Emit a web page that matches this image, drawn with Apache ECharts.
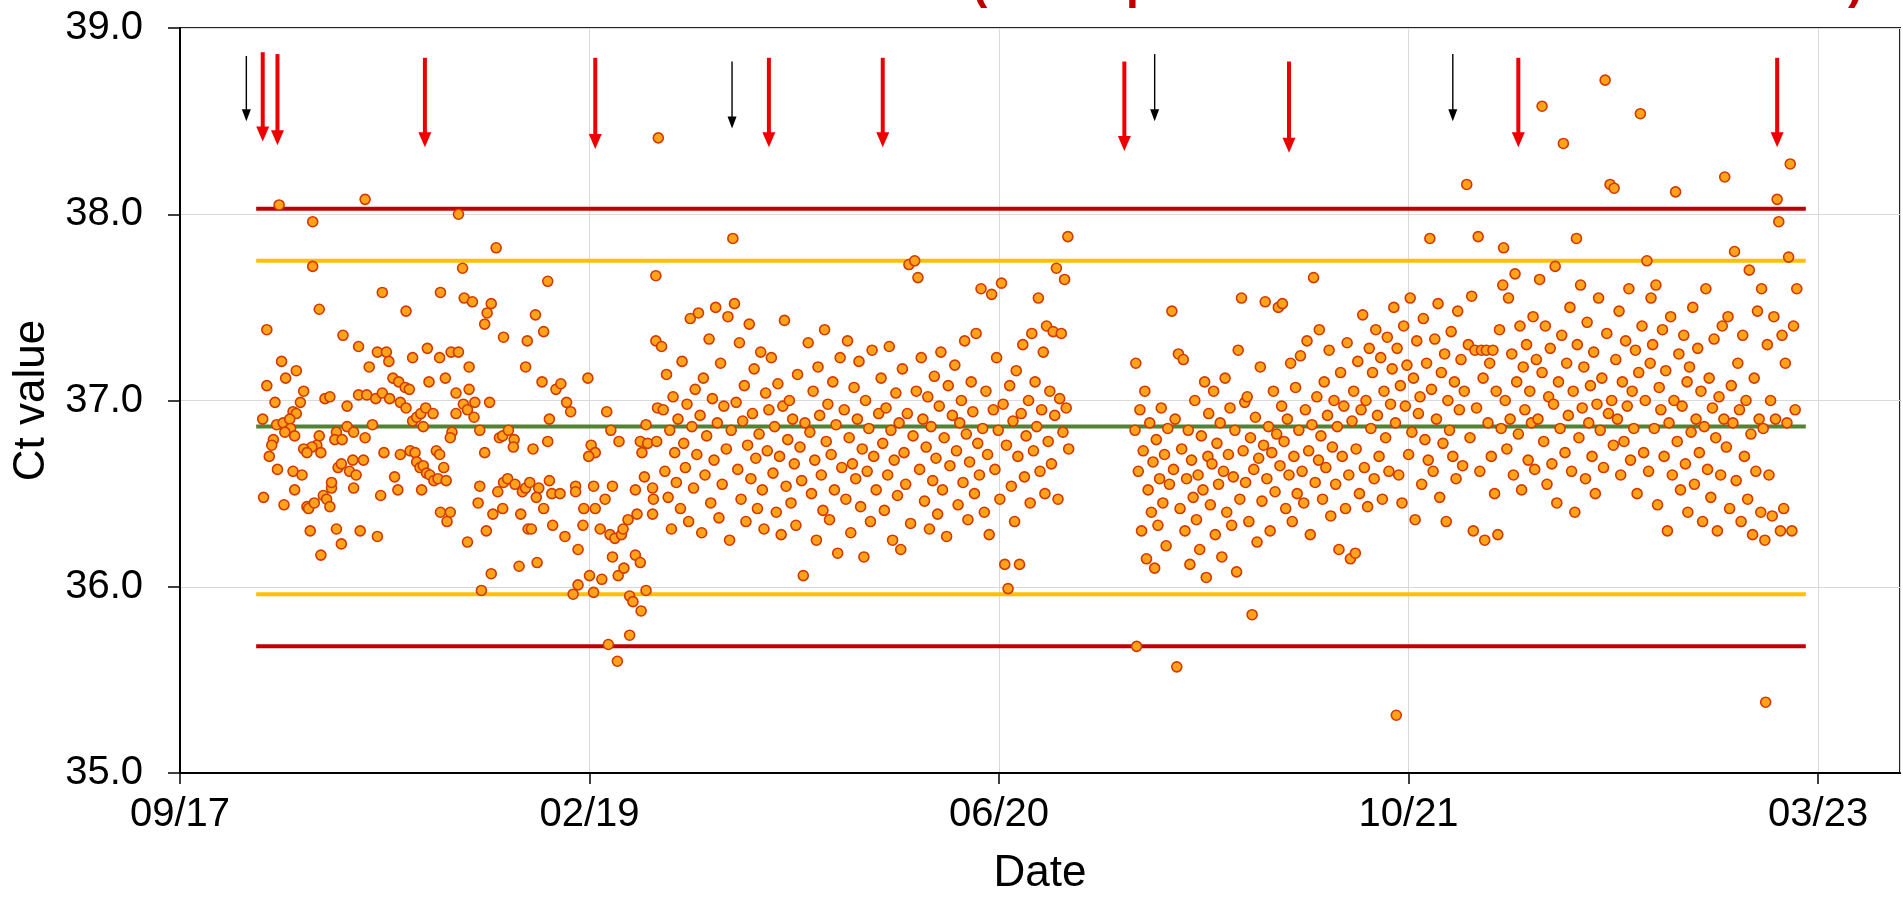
<!DOCTYPE html>
<html><head><meta charset="utf-8">
<script src="https://cdn.jsdelivr.net/npm/echarts@6/dist/echarts.min.js"></script>
<style>html,body{margin:0;padding:0;background:#fff}#chart{width:1903px;height:901px}</style>
</head><body><div id="chart"></div>
<script>
// Dates are spreadsheet serial days (1899-12-30 = 0)
const xTicks = [43000, 43500, 44000, 44500, 45000];
const xTickLabels = ['09/17', '02/19', '06/20', '10/21', '03/23'];
const yTicks = [35, 36, 37, 38, 39];

const limitLevels = [38.03, 37.75, 36.86, 35.96, 35.68];
const limitColors = ['#C00000', '#FFC000', '#548235', '#FFC000', '#C00000'];
const limitStart = 43093, limitEnd = 44985;

// [date, top value, tip value]
const redArrows = [[43101,38.87,38.39],[43119,38.86,38.37],[43299,38.84,38.36],[43507,38.84,38.35],[43719,38.84,38.36],[43858,38.84,38.36],[44153,38.82,38.34],[44354,38.82,38.33],[44634,38.84,38.36],[44950,38.84,38.36]];
const blackArrows = [[43081,38.85,38.50],[43674,38.82,38.46],[44190,38.86,38.50],[44554,38.86,38.50]];

const ct2018a = [[43121,38.05],[43226,38.08],[43162,37.96],[43340,38.00],[43386,37.82],[43162,37.72],[43345,37.71],[43581,37.67],[43247,37.58],[43318,37.58],[43347,37.55],[43357,37.53],[43380,37.52],[43375,37.47],[43372,37.41],[43170,37.49],[43276,37.48],[43106,37.38],[43434,37.46],[43444,37.37],[43449,37.64],[43395,37.34],[43424,37.32],[43581,37.32],[43199,37.35],[43218,37.29],[43241,37.26],[43252,37.26],[43255,37.21],[43284,37.23],[43302,37.28],[43317,37.23],[43331,37.26],[43340,37.26],[43353,37.18],[43422,37.18],[43124,37.21],[43231,37.18],[43142,37.16],[43129,37.12],[43106,37.08],[43151,37.05],[43260,37.12],[43267,37.10],[43275,37.07],[43280,37.06],[43304,37.10],[43324,37.12],[43353,37.06],[43442,37.10],[43459,37.06],[43465,37.09],[43498,37.12],[43177,37.01],[43183,37.02],[43116,36.99],[43147,36.99],[43138,36.94],[43142,36.93],[43204,36.97],[43218,37.03],[43228,37.03],[43239,37.01],[43247,37.04],[43256,37.01],[43269,36.99],[43276,36.96],[43284,36.89],[43289,36.91],[43294,36.93],[43300,36.96],[43309,36.93],[43297,36.86],[43337,37.04],[43346,36.98],[43351,36.95],[43360,36.99],[43359,36.91],[43337,36.93],[43378,36.99],[43472,36.99],[43477,36.94],[43451,36.90],[43521,36.94],[43526,36.84],[43569,36.87],[43583,36.96],[43101,36.90],[43118,36.87],[43126,36.88],[43134,36.90],[43135,36.85],[43128,36.83],[43140,36.81],[43170,36.81],[43167,36.76],[43172,36.72],[43161,36.75],[43151,36.74],[43155,36.72],[43114,36.79],[43112,36.76],[43109,36.70],[43191,36.83],[43189,36.79],[43198,36.79],[43204,36.86],[43212,36.83],[43226,36.80],[43235,36.87],[43249,36.72],[43281,36.73],[43287,36.72],[43269,36.71],[43313,36.73],[43317,36.71],[43332,36.83],[43330,36.80],[43366,36.84],[43372,36.72],[43390,36.80],[43394,36.81],[43401,36.84],[43408,36.79],[43407,36.75],[43431,36.74],[43449,36.78],[43502,36.76],[43507,36.72],[43499,36.70],[43536,36.78],[43562,36.78],[43571,36.77],[43582,36.78],[43564,36.72],[43584,38.41]];
const ct2018b = [[43119,36.63],[43102,36.48],[43127,36.44],[43138,36.62],[43149,36.60],[43140,36.52],[43155,36.43],[43157,36.42],[43164,36.45],[43175,36.49],[43179,36.47],[43183,36.43],[43185,36.53],[43185,36.56],[43159,36.30],[43172,36.17],[43191,36.31],[43197,36.23],[43193,36.64],[43197,36.66],[43207,36.62],[43211,36.68],[43215,36.60],[43224,36.68],[43212,36.53],[43220,36.30],[43241,36.27],[43245,36.49],[43262,36.59],[43266,36.52],[43289,36.67],[43293,36.64],[43297,36.65],[43301,36.61],[43305,36.60],[43310,36.57],[43315,36.58],[43325,36.57],[43322,36.64],[43295,36.52],[43318,36.40],[43330,36.40],[43326,36.35],[43351,36.24],[43366,36.54],[43364,36.45],[43374,36.30],[43382,36.39],[43394,36.42],[43388,36.51],[43395,36.56],[43400,36.58],[43409,36.55],[43418,36.51],[43422,36.53],[43427,36.56],[43438,36.53],[43435,36.48],[43416,36.39],[43444,36.42],[43451,36.57],[43454,36.50],[43464,36.50],[43455,36.33],[43425,36.31],[43429,36.31],[43414,36.11],[43436,36.13],[43380,36.07],[43368,35.98],[43470,36.27],[43483,36.54],[43483,36.51],[43493,36.42],[43492,36.33],[43486,36.20],[43505,36.54],[43507,36.42],[43513,36.31],[43519,36.47],[43528,36.54],[43525,36.28],[43531,36.26],[43539,36.28],[43541,36.31],[43547,36.36],[43558,36.39],[43556,36.52],[43567,36.59],[43577,36.53],[43578,36.47],[43577,36.39],[43528,36.16],[43535,36.06],[43542,36.10],[43556,36.17],[43562,36.13],[43500,36.06],[43486,36.01],[43515,36.04],[43480,35.96],[43505,35.97],[43549,35.95],[43553,35.92],[43563,35.87],[43569,35.98],[43549,35.74],[43523,35.69],[43534,35.60]];
const ct2019 = [[43588,37.29],[43590,36.95],[43592,36.62],[43594,37.14],[43596,36.48],[43598,36.84],[43600,36.31],[43602,37.02],[43604,36.72],[43606,36.56],[43608,36.9],[43611,36.42],[43613,37.21],[43615,36.77],[43617,36.64],[43619,36.98],[43621,36.35],[43623,37.44],[43625,36.86],[43627,36.53],[43629,37.06],
[43631,36.71],[43633,37.47],[43635,36.92],[43637,36.29],[43639,37.12],[43641,36.6],[43643,36.81],[43646,37.33],[43648,36.45],[43650,37.01],[43652,36.68],[43654,37.5],[43656,36.88],[43658,36.37],[43660,37.2],[43662,36.55],[43664,36.97],[43667,36.74],[43669,37.45],[43671,36.25],[43673,36.84],[43675,37.87],
[43677,37.52],[43679,36.99],[43681,36.63],[43683,37.31],[43685,36.47],[43687,36.89],[43689,37.08],[43691,36.35],[43693,36.76],[43695,37.41],[43697,36.58],[43699,36.93],[43701,37.17],[43703,36.69],[43705,36.42],[43707,36.82],[43709,37.26],[43711,36.52],[43713,36.31],[43715,37.04],[43717,36.73],[43719,36.95],
[43722,37.23],[43724,36.61],[43726,36.86],[43728,36.4],[43730,37.09],[43732,36.7],[43734,36.28],[43736,36.97],[43738,37.43],[43740,36.54],[43742,36.79],[43744,37.0],[43746,36.45],[43748,36.9],[43750,36.66],[43752,36.33],[43754,37.14],[43757,36.75],[43759,36.57],[43761,36.06],[43763,36.88],
[43767,37.31],[43769,36.83],[43771,36.5],[43773,37.05],[43775,36.68],[43777,36.25],[43779,37.18],[43781,36.92],[43783,36.6],[43785,36.41],[43787,37.38],[43789,36.78],[43791,36.98],[43793,36.36],[43795,36.71],[43797,37.1],[43799,36.52],[43801,36.87],[43803,36.18],[43806,37.23],[43808,36.64]];
const ct2020 = [[43811,36.95],[43813,36.47],[43815,37.32],[43817,36.8],[43819,36.29],[43821,36.66],[43823,37.07],[43825,36.58],[43827,36.9],[43829,37.21],[43831,36.43],[43833,36.74],[43835,36.16],[43837,37.0],[43839,36.62],[43841,36.85],[43843,36.35],[43845,37.27],[43847,36.7],[43850,36.52],[43853,36.93],
[43856,37.12],[43858,36.77],[43860,36.41],[43862,36.96],[43864,36.6],[43866,37.29],[43868,36.84],[43870,36.25],[43872,36.68],[43874,37.04],[43876,36.49],[43878,36.88],[43880,36.2],[43882,37.17],[43884,36.72],[43886,36.55],[43888,36.93],[43890,37.73],[43892,36.34],[43895,36.81],[43897,37.75],[43899,37.05],
[43901,37.66],[43903,36.63],[43905,37.23],[43907,36.9],[43909,36.46],[43911,36.75],[43913,37.02],[43915,36.31],[43917,36.86],[43919,36.57],[43921,37.13],[43923,36.69],[43925,36.39],[43927,36.97],[43929,37.26],[43931,36.52],[43933,36.8],[43936,36.27],[43938,37.08],[43940,36.65],[43943,36.92],
[43946,37.19],[43948,36.73],[43950,36.44],[43952,36.88],[43954,37.0],[43956,36.56],[43958,37.32],[43960,36.82],[43962,36.36],[43964,36.67],[43966,37.1],[43968,36.94],[43970,36.5],[43972,37.36],[43974,36.77],[43976,36.6],[43978,37.6],[43980,36.85],[43982,36.4],[43984,37.05],[43986,36.71],[43988,36.28],
[43991,37.57],[43993,36.95],[43995,36.63],[43997,37.23],[43999,36.84],[44001,36.47],[44003,37.63],[44005,36.98],[44007,36.12],[44009,36.76],[44011,35.99],[44013,37.08],[44015,36.54],[44017,36.89],[44019,36.35],[44021,37.16],[44023,36.7],[44025,36.12],[44027,36.93],[44029,37.3],[44031,36.59],[44033,36.81],
[44036,37.0],[44038,36.45],[44040,37.36],[44042,36.73],[44044,37.1],[44046,36.86],[44048,37.55],[44050,36.62],[44052,36.95],[44054,37.26],[44056,36.5],[44058,37.4],[44060,36.78],[44062,37.05],[44064,36.66],[44066,37.37],[44068,36.92],[44070,37.71],[44072,36.47],[44074,37.01],[44076,37.36],[44078,36.83],[44080,37.65],[44082,36.96],[44084,37.88],[44085,36.74]];
const ct2021 = [[44166,36.84],[44167,37.2],[44168,35.68],[44170,36.62],[44172,36.95],[44174,36.3],[44176,36.73],[44178,37.05],[44180,36.15],[44182,36.52],[44184,36.88],[44186,36.4],[44188,36.67],[44190,36.1],[44192,36.79],[44194,36.33],[44196,36.58],[44198,36.96],[44200,36.45],[44202,36.71],[44204,36.22],[44206,36.85],[44208,36.55],
[44211,37.48],[44213,36.63],[44215,36.9],[44217,35.57],[44219,37.25],[44221,36.42],[44223,36.74],[44225,37.22],[44227,36.3],[44229,36.58],[44231,36.84],[44233,36.12],[44235,36.68],[44237,36.48],[44239,37.0],[44241,36.36],[44243,36.6],[44245,36.2],[44247,36.81],[44249,36.52],[44251,37.1],[44253,36.05],[44255,36.7],
[44256,36.93],[44258,36.44],[44260,36.66],[44262,37.05],[44264,36.28],[44266,36.77],[44268,36.55],[44270,36.88],[44272,36.16],[44274,36.62],[44276,37.12],[44278,36.4],[44280,36.71],[44282,36.96],[44284,36.33],[44286,36.59],[44288,36.84],[44290,36.08],[44292,37.27],[44294,36.47],[44296,37.55],[44298,36.73],[44300,36.99],
[44301,36.56],[44303,37.02],[44305,36.35],[44307,36.8],[44309,35.85],[44311,36.63],[44313,36.91],[44315,36.24],[44317,36.69],[44319,37.18],[44321,36.46],[44323,36.76],[44325,37.53],[44327,36.58],[44329,36.86],[44331,36.3],[44333,36.72],[44335,37.05],[44337,36.51],[44339,36.82],[44341,37.5],[44343,36.65],[44345,36.97],
[44346,37.52],[44348,36.78],[44350,36.42],[44352,36.9],[44354,36.6],[44356,37.2],[44358,36.35],[44360,36.7],[44362,37.07],[44364,36.5],[44366,36.84],[44368,37.24],[44370,36.62],[44372,36.45],[44374,36.95],[44376,37.32],[44378,36.73],[44380,36.28],[44382,36.87],[44384,37.66],[44386,36.56],[44388,37.02],[44390,36.68],
[44391,37.38],[44393,36.81],[44395,36.47],[44397,37.1],[44399,36.64],[44401,36.92],[44403,37.27],[44405,36.38],[44407,36.75],[44409,37.0],[44411,36.55],[44413,36.86],[44415,36.2],[44417,37.15],[44419,36.7],[44421,36.97],[44423,36.42],[44425,37.31],[44427,36.6],[44429,36.15],[44431,36.89],[44433,37.05],[44435,36.18],
[44436,36.74],[44438,37.21],[44440,36.5],[44442,36.95],[44444,37.46],[44446,36.64],[44448,37.0],[44450,36.43],[44452,37.28],[44454,36.85],[44456,37.15],[44458,36.58],[44460,37.38],[44462,36.92],[44464,36.7],[44466,37.23],[44468,36.47],[44470,37.05],[44472,36.8],[44474,37.34],[44476,36.62],[44478,36.98],[44480,37.17],[44485,35.31],
[44482,37.5],[44484,36.88],[44486,37.28],[44488,36.6],[44490,37.08],[44492,36.45],[44494,37.4],[44496,36.97],[44498,37.19],[44500,36.71],[44502,37.55],[44504,36.83],[44506,37.12],[44508,36.36],[44510,37.32],[44512,36.93],[44514,37.02],[44516,36.55],[44518,37.44],[44520,36.79],[44522,37.2],[44524,36.68]];
const ct2022 = [[44526,37.87],[44528,37.06],[44530,36.62],[44532,37.33],[44534,36.9],[44536,37.52],[44538,36.48],[44540,37.15],[44542,36.77],[44544,37.25],[44546,36.35],[44548,37.0],[44550,36.84],[44552,37.37],[44554,36.7],[44556,37.1],[44558,36.58],[44560,37.48],[44562,36.95],[44564,37.22],[44566,36.65],[44568,37.05],
[44571,38.16],[44573,37.3],[44575,36.8],[44577,37.56],[44579,36.3],[44581,37.27],[44583,36.96],[44585,37.88],[44587,36.62],[44589,37.27],[44591,37.12],[44593,36.25],[44595,37.27],[44597,36.88],[44599,37.2],[44601,36.7],[44603,37.27],[44605,36.5],[44607,37.05],[44609,36.28],[44611,37.38],[44613,36.85],[44615,37.62],
[44616,37.82],[44618,37.0],[44620,36.74],[44622,37.55],[44624,36.9],[44626,37.25],[44628,36.6],[44630,37.68],[44632,37.1],[44634,36.82],[44636,37.4],[44638,36.52],[44640,37.18],[44642,36.95],[44644,37.3],[44646,36.68],[44648,37.05],[44650,36.88],[44652,37.45],[44654,36.63],[44656,37.22],[44658,36.9],[44660,37.65],
[44663,38.58],[44663,37.15],[44665,36.78],[44667,37.4],[44669,36.55],[44671,37.02],[44673,37.28],[44675,36.66],[44677,36.98],[44679,37.72],[44681,36.45],[44683,37.1],[44685,36.85],[44687,37.35],[44689,38.38],[44691,36.72],[44693,37.2],[44695,36.92],[44697,37.5],[44699,36.62],[44701,37.05],[44703,36.4],[44705,37.87],
[44706,37.3],[44708,36.8],[44710,37.62],[44712,36.96],[44714,37.18],[44716,36.58],[44718,37.42],[44720,36.88],[44722,37.08],[44724,36.7],[44726,37.26],[44728,36.5],[44730,36.98],[44732,37.55],[44734,36.84],[44736,37.12],[44738,36.64],[44740,38.72],[44742,37.36],[44744,36.93],[44746,38.16],[44748,37.0],[44750,36.76],
[44751,38.14],[44753,37.22],[44755,36.9],[44757,37.48],[44759,36.6],[44761,37.1],[44763,36.78],[44765,37.32],[44767,36.97],[44769,37.6],[44771,36.68],[44773,37.05],[44775,36.85],[44777,37.27],[44779,36.5],[44781,37.15],[44783,38.54],[44785,37.4],[44787,36.72],[44789,37.0],[44791,37.75],[44793,36.62],[44795,37.2],
[44796,37.55],[44798,37.3],[44800,36.85],[44802,37.62],[44804,36.44],[44806,37.07],[44808,36.95],[44810,37.38],[44812,36.7],[44814,37.16],[44816,36.3],[44818,36.88],[44820,37.45],[44822,36.6],[44824,37.0],[44826,38.12],[44828,36.78],[44830,37.25],[44832,36.52],[44834,36.97],[44836,37.35],[44838,36.66],[44840,37.1]];
const ct2023 = [[44841,36.4],[44843,37.18],[44845,36.83],[44847,37.5],[44849,36.55],[44851,36.9],[44853,37.28],[44855,36.72],[44857,37.05],[44859,36.35],[44861,36.86],[44863,37.6],[44865,36.63],[44867,37.12],[44869,36.48],[44871,36.96],[44873,37.33],[44875,36.8],[44877,36.3],[44879,37.02],[44881,36.6],[44883,37.4],[44885,36.9],
[44886,38.2],[44888,36.75],[44890,37.45],[44892,36.42],[44894,37.08],[44896,36.88],[44898,37.8],[44900,36.57],[44902,37.2],[44904,36.95],[44906,36.35],[44908,37.35],[44910,36.7],[44912,37.0],[44914,36.47],[44916,37.7],[44918,36.82],[44920,36.28],[44922,37.12],[44924,36.62],[44926,37.48],[44928,36.9],[44930,36.4],
[44931,37.6],[44933,36.85],[44935,36.25],[44936,35.38],[44938,37.3],[44940,36.6],[44942,37.0],[44944,36.38],[44946,37.45],[44948,36.9],[44950,38.08],[44952,37.96],[44954,36.3],[44956,37.35],[44958,36.42],[44960,37.2],[44962,36.88],[44964,37.77],[44966,38.27],[44968,36.3],[44970,37.4],[44972,36.95],[44974,37.6]];

const FONT = "'Liberation Sans', Arial, sans-serif";
const chart = echarts.init(document.getElementById('chart'));

function arrowSeries(data, color, shaftW, headW, headL) {
  return {
    type: 'custom', data: data, silent: true, z: 6, clip: false,
    encode: { x: 0, y: [1, 2] },
    renderItem: function (params, api) {
      const p0 = api.coord([api.value(0), api.value(1)]);
      const p1 = api.coord([api.value(0), api.value(2)]);
      return { type: 'group', children: [
        { type: 'line', shape: { x1: p0[0], y1: p0[1], x2: p1[0], y2: p1[1] - headL + 1 },
          style: { stroke: color, lineWidth: shaftW } },
        { type: 'polygon', shape: { points: [[p1[0] - headW / 2, p1[1] - headL], [p1[0] + headW / 2, p1[1] - headL], [p1[0], p1[1]]] },
          style: { fill: color } }
      ]};
    }
  };
}

const limitSeries = limitLevels.map(function (v, i) {
  return { type: 'line', data: [[limitStart, v], [limitEnd, v]], symbol: 'none', silent: true, z: 3,
    lineStyle: { color: limitColors[i], width: 4 }, animation: false };
});

const allPoints = ct2018a.concat(ct2018b, ct2019, ct2020, ct2021, ct2022, ct2023);

chart.setOption({
  animation: false,
  backgroundColor: '#fff',
  grid: { left: 180, right: 3, top: 28, bottom: 125, show: true, borderColor: '#222', borderWidth: 2, containLabel: false },
  xAxis: {
    type: 'value', min: 43000, max: 45100, interval: 500,
    name: 'Date', nameLocation: 'middle', nameGap: 79,
    nameTextStyle: { fontSize: 44, color: '#000', fontFamily: FONT },
    axisLine: { show: true, lineStyle: { color: '#000', width: 2 } },
    axisTick: { show: true, length: 11, lineStyle: { color: '#000', width: 1.5 } },
    axisLabel: { fontSize: 40, color: '#000', fontFamily: FONT, margin: 22, showMaxLabel: false,
      formatter: function (v) { const i = xTicks.indexOf(v); return i >= 0 ? xTickLabels[i] : ''; } },
    splitLine: { show: true, lineStyle: { color: '#d9d9d9', width: 1 } }
  },
  yAxis: {
    type: 'value', min: yTicks[0], max: yTicks[yTicks.length - 1], interval: 1,
    name: 'Ct value', nameLocation: 'middle', nameGap: 117,
    nameTextStyle: { fontSize: 44, color: '#000', fontFamily: FONT },
    axisLine: { show: true, lineStyle: { color: '#000', width: 2 } },
    axisTick: { show: true, length: 12, lineStyle: { color: '#000', width: 1.5 } },
    axisLabel: { fontSize: 40, color: '#000', fontFamily: FONT, margin: 37, formatter: function (v) { return v.toFixed(1); } },
    splitLine: { show: true, lineStyle: { color: '#d9d9d9', width: 1 } }
  },
  graphic: [
    { type: 'text', left: 972, top: -38, style: { text: '(', font: 'bold 46px ' + FONT, fill: '#C00000' } },
    { type: 'text', left: 1126, top: -38, style: { text: 'p', font: 'bold 46px ' + FONT, fill: '#C00000' } },
    { type: 'text', left: 1848, top: -38, style: { text: ')', font: 'bold 46px ' + FONT, fill: '#C00000' } }
  ],
  series: limitSeries.concat([
    { type: 'scatter', data: allPoints, symbol: 'circle', symbolSize: 10, z: 4,
      itemStyle: { color: '#FFA31A', borderColor: '#D23A00', borderWidth: 1.6, opacity: 1 } },
    arrowSeries(redArrows, '#EE0000', 4, 13, 15),
    arrowSeries(blackArrows, '#000000', 1.4, 9, 12)
  ])
});
</script></body></html>
